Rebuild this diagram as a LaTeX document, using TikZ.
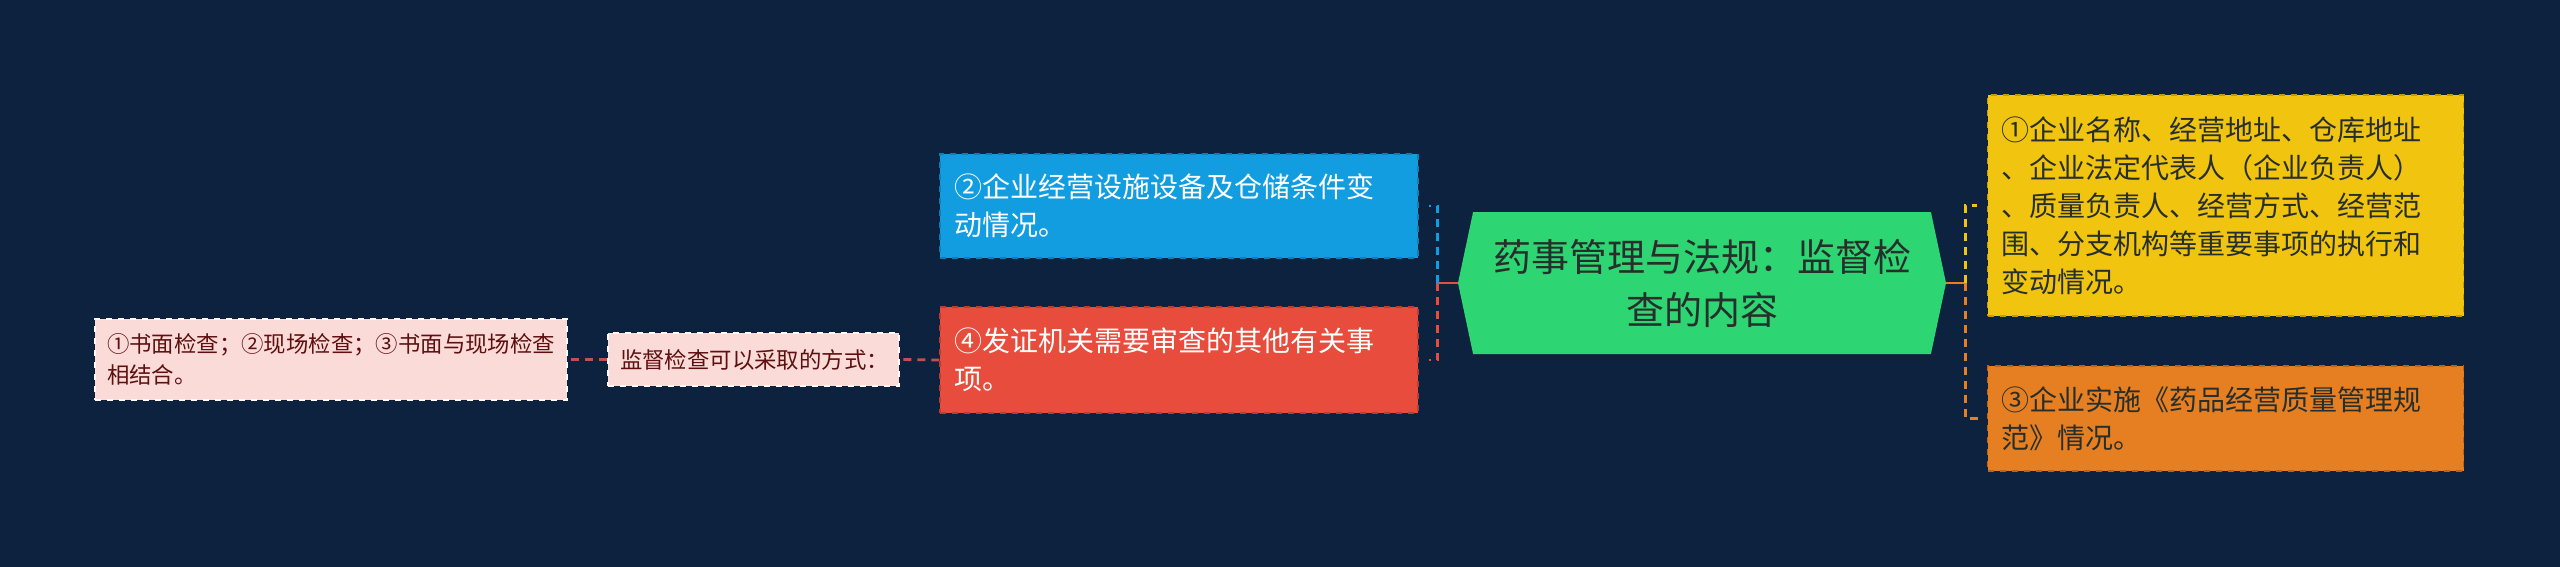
\documentclass[tikz,border=0pt]{standalone}
\usepackage{fontspec}
\setmainfont{Noto Sans CJK SC}
\usetikzlibrary{shapes.symbols}
\definecolor{bgnavy}{HTML}{0D223F}
\definecolor{mintgreen}{HTML}{2ED573}
\definecolor{sunyellow}{HTML}{F1C40F}
\definecolor{carrot}{HTML}{E67E22}
\definecolor{skyblue}{HTML}{129DE0}
\definecolor{tomato}{HTML}{E74C3C}
\definecolor{blush}{HTML}{FADBD8}
\definecolor{maroon}{HTML}{5E0F0F}
\definecolor{darkink}{HTML}{262F2B}
\definecolor{dashred}{HTML}{C4504D}
\begin{document}
\begin{tikzpicture}[x=0.5pt,y=-0.5pt]
        \tikzstyle{topic}=[signal,signal to=east and west,signal pointer angle=156,fill=mintgreen,text=darkink,minimum width=244pt,minimum height=71pt,inner sep=0pt,align=center,font=\fontsize{19pt}{26.5pt}\selectfont]
        \tikzstyle{leaf}=[rectangle,draw,dashed,line width=0.6pt,inner xsep=7pt,inner ysep=0pt,align=left,font=\fontsize{14pt}{19pt}\selectfont]
        \tikzstyle{note}=[leaf,fill=blush,draw=white!85!blush,text=maroon,inner xsep=6pt,font=\fontsize{11.2pt}{15.5pt}\selectfont]
        \tikzstyle{edge}=[line width=1.4pt]
        \tikzstyle{link}=[edge,dash pattern=on 4pt off 3pt]
        \fill[bgnavy] (0,0) rectangle (2560,567);
        \useasboundingbox (0,0) rectangle (2560,567);
       \begin{scope}
         \node [topic] (root) at (1702,283) {药事管理与法规：监督检\\查的内容};
         \node [leaf,fill=sunyellow,draw=sunyellow!80!black,text=darkink,text width=224pt,minimum height=110.5pt] (basics) at (2225.5,205.5)
           {①企业名称、经营地址、仓库地址\\、企业法定代表人（企业负责人）\\、质量负责人、经营方式、经营范\\围、分支机构等重要事项的执行和\\变动情况。};
         \node [leaf,fill=carrot,draw=carrot!80!black,text=darkink,text width=224pt,minimum height=52.5pt] (gsp) at (2225.5,418.5)
           {③企业实施《药品经营质量管理规\\范》情况。};
         \node [leaf,fill=skyblue,draw=skyblue!80!black,text=white,text width=225pt,minimum height=52pt] (facility) at (1179,206)
           {②企业经营设施设备及仓储条件变\\动情况。};
         \node [leaf,fill=tomato,draw=tomato!80!black,text=white,text width=225pt,minimum height=53pt] (other) at (1179,360)
           {④发证机关需要审查的其他有关事\\项。};
         \node [note,text width=133.5pt,minimum height=26.5pt] (way) at (753.5,359.5) {监督检查可以采取的方式：};
         \node [note,text width=224pt,minimum height=40.5pt] (method) at (331,359.5)
           {①书面检查；②现场检查；③书面与现场检查\\相结合。};
         \coordinate (jr) at ([xshift=9.5pt]root.east);
         \coordinate (jl) at ([xshift=-10pt]root.west);
         \draw[edge,carrot] (root.east) -- (jr);
         \draw[link,sunyellow] (jr) |- ([xshift=-5pt]basics.west);
         \draw[link,carrot] (jr) |- ([xshift=-2pt]gsp.west);
         \draw[edge,tomato] (root.west) -- (jl);
         \draw[link,skyblue] (jl) |- ([xshift=5pt]facility.east);
         \draw[link,tomato] (jl) |- ([xshift=5pt]other.east);
         \draw[link,dashred] (other.west) -- (way.east);
         \draw[link,dashred] (way.west) -- (method.east);
        \end{scope}
      \end{tikzpicture}
\end{document}
